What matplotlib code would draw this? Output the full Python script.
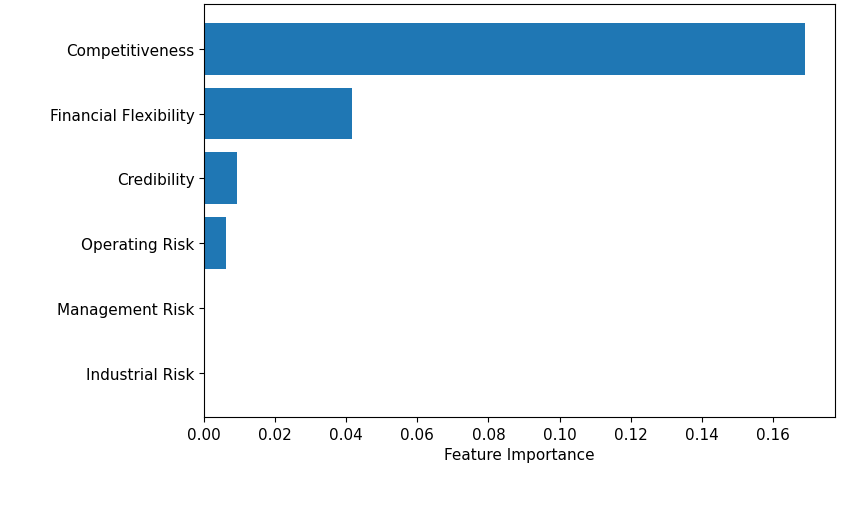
import matplotlib
matplotlib.use("Agg")
import matplotlib.pyplot as plt

features = ['Industrial Risk', 'Management Risk', 'Operating Risk',
            'Credibility', 'Financial Flexibility', 'Competitiveness']
importance = [0.0, 0.0, 0.0062, 0.0093, 0.0416, 0.169]

fig = plt.figure(figsize=(8.48, 5.10), dpi=100)
ax = fig.add_axes([0.2406, 0.180, 0.744, 0.810])
ax.barh(features, importance, color='#1f77b4')
ax.set_xlabel('Feature Importance', fontsize=11)
ax.tick_params(labelsize=11)
fig.savefig('out.png', dpi=100)
